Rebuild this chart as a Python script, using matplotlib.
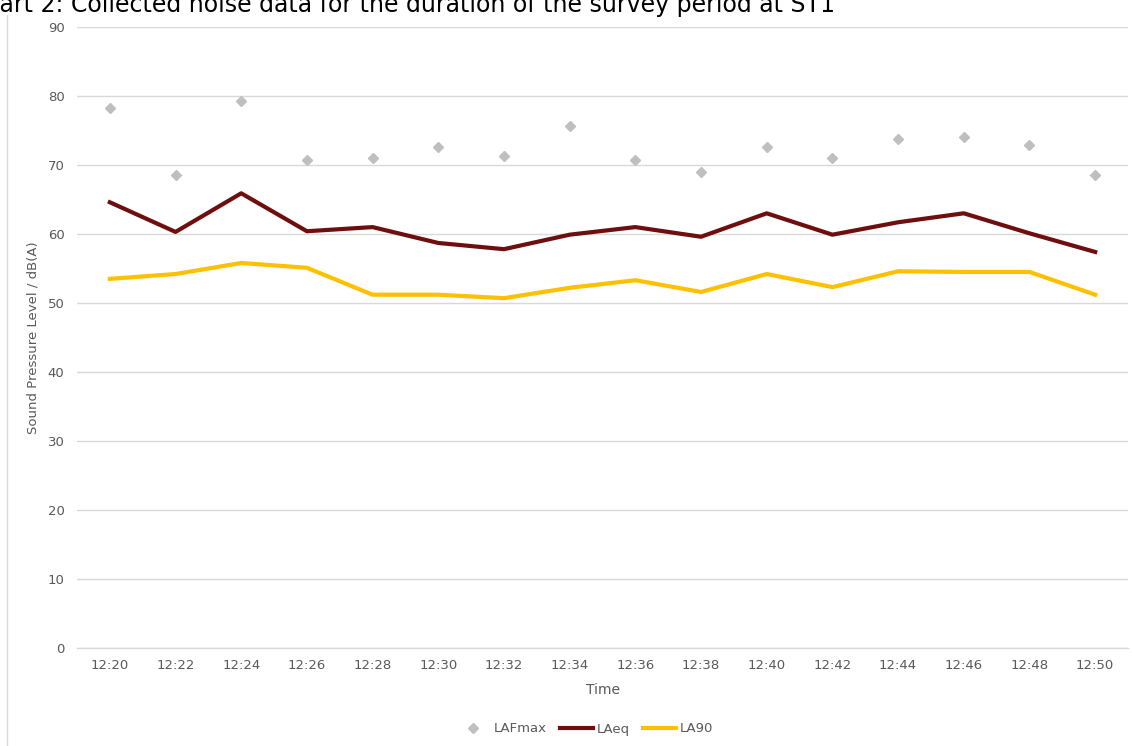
import matplotlib
matplotlib.use("Agg")
import matplotlib.pyplot as plt
from matplotlib.lines import Line2D

times = ["12:20", "12:22", "12:24", "12:26", "12:28", "12:30", "12:32", "12:34",
         "12:36", "12:38", "12:40", "12:42", "12:44", "12:46", "12:48", "12:50"]
lafmax = [78.3, 68.6, 79.3, 70.7, 71.0, 72.6, 71.3, 75.7, 70.7, 69.0, 72.6, 71.0, 73.8, 74.1, 72.9, 68.6]
laeq = [64.6, 60.3, 65.9, 60.4, 61.0, 58.7, 57.8, 59.9, 61.0, 59.6, 63.0, 59.9, 61.7, 63.0, 60.1, 57.4]
la90 = [53.5, 54.2, 55.8, 55.1, 51.2, 51.2, 50.7, 52.2, 53.3, 51.6, 54.2, 52.3, 54.6, 54.5, 54.5, 51.2]
yticks = [0, 10, 20, 30, 40, 50, 60, 70, 80, 90]

W, H = 1132, 746
fig = plt.figure(figsize=(W / 100, H / 100), dpi=100)
ax = fig.add_axes([77 / W, 1 - 648 / H, (1128 - 77) / W, (648 - 27) / H])

x = list(range(len(times)))
ax.plot(x, lafmax, linestyle="none", marker="D", markersize=5, color="#BFBFBF", label="LAFmax")
ax.plot(x, laeq, color="#6E0E0E", linewidth=3, label="LAeq", solid_joinstyle="round")
ax.plot(x, la90, color="#FFC000", linewidth=3, label="LA90", solid_joinstyle="round")

ax.set_xlim(-0.5, len(times) - 0.5)
ax.set_ylim(0, 90)
ax.set_yticks(yticks)
ax.set_xticks(x)
ax.set_xticklabels(times)
ax.grid(axis="y", color="#D9D9D9", linewidth=1)
ax.axhline(0, color="#D9D9D9", linewidth=1, clip_on=False, zorder=0.5)
ax.set_axisbelow(True)
for s in ax.spines.values():
    s.set_visible(False)
ax.tick_params(axis="both", length=0, colors="#595959", labelsize=9.5)
ax.tick_params(axis="y", pad=9)
ax.tick_params(axis="x", pad=8)
ax.set_xlabel("Time", color="#595959", fontsize=10, labelpad=8)
ax.set_ylabel("Sound Pressure Level / dB(A)", color="#595959", fontsize=9.5, labelpad=6)

leg = fig.legend(loc="center", bbox_to_anchor=(585 / W, 1 - 729 / H), ncol=3, frameon=False,
                 fontsize=9.5, handlelength=2.5, handletextpad=0.3, columnspacing=1.0)
for t in leg.get_texts():
    t.set_color("#595959")

fig.text(835 / W, 1 - 12 / H, "Chart 2: Collected noise data for the duration of the survey period at ST1",
         ha="right", va="baseline", fontsize=17, color="#000000")

fig.add_artist(Line2D([7 / W, 7 / W], [0, 1 - 15 / H], color="#D9D9D9", linewidth=1))

fig.savefig("out.png", dpi=100)
